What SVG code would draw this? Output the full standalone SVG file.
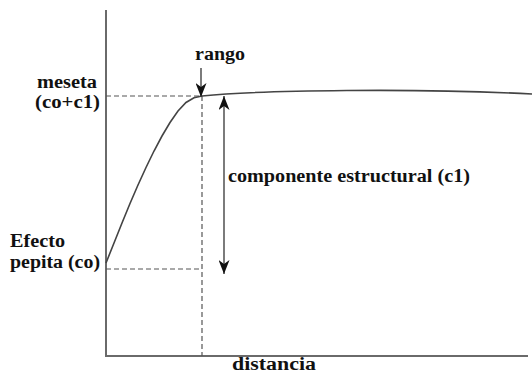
<svg xmlns="http://www.w3.org/2000/svg" width="532" height="373" viewBox="0 0 532 373">
<defs>
<marker id="ah" viewBox="0 0 14 11" refX="14" refY="5.5" markerWidth="14" markerHeight="11" markerUnits="userSpaceOnUse" orient="auto">
<path d="M0,0 L14,5.5 L0,11 L4,5.5 Z" fill="#111"/>
</marker>
<style>
.ax{stroke:#6a6a6a;stroke-width:2;fill:none}
.d{stroke:#555;stroke-width:1.2;stroke-dasharray:5,3;fill:none}
.c{stroke:#444;stroke-width:1.6;fill:none}
.a{stroke:#444;stroke-width:1.4;fill:none}
</style>
</defs>
<rect width="532" height="373" fill="#fff"/>
<g id="axes">
<line class="ax" x1="106" y1="10" x2="106" y2="356"/>
<line class="ax" x1="105" y1="356" x2="528" y2="356"/>
</g>
<g id="connectors">
<line class="d" x1="106" y1="96" x2="202" y2="96"/>
<line class="d" x1="202" y1="96" x2="202" y2="356"/>
<line class="d" x1="106" y1="269" x2="202" y2="269"/>
<path class="c" d="M106,263 L114,243 L122,223 L130,203.5 L138,185 L146,167.5 L154,151 L162,136 L170,122.5 L178,111 L186,102.5 L194,97.7 L202,96 C260,90 420,88 532,94"/>
<line class="a" x1="201" y1="68" x2="201" y2="97" marker-end="url(#ah)"/>
<line class="a" x1="224" y1="185" x2="224" y2="96" marker-end="url(#ah)"/>
<line class="a" x1="224" y1="185" x2="224" y2="274" marker-end="url(#ah)"/>
</g>
<g id="labels" font-family="'Liberation Serif', 'DejaVu Serif', 'Noto Serif', serif" font-weight="bold" font-size="18" fill="#111">
<text x="195" y="60" textLength="50" lengthAdjust="spacingAndGlyphs">rango</text>
<text x="37" y="88" textLength="60" lengthAdjust="spacingAndGlyphs">meseta</text>
<text x="35" y="108" textLength="65" lengthAdjust="spacingAndGlyphs">(co+c1)</text>
<text x="228" y="182" textLength="242" lengthAdjust="spacingAndGlyphs">componente estructural (c1)</text>
<text x="10" y="247" textLength="55" lengthAdjust="spacingAndGlyphs">Efecto</text>
<text x="10" y="268" textLength="90" lengthAdjust="spacingAndGlyphs">pepita (co)</text>
<text x="232" y="370" textLength="84" lengthAdjust="spacingAndGlyphs">distancia</text>
</g>
</svg>
